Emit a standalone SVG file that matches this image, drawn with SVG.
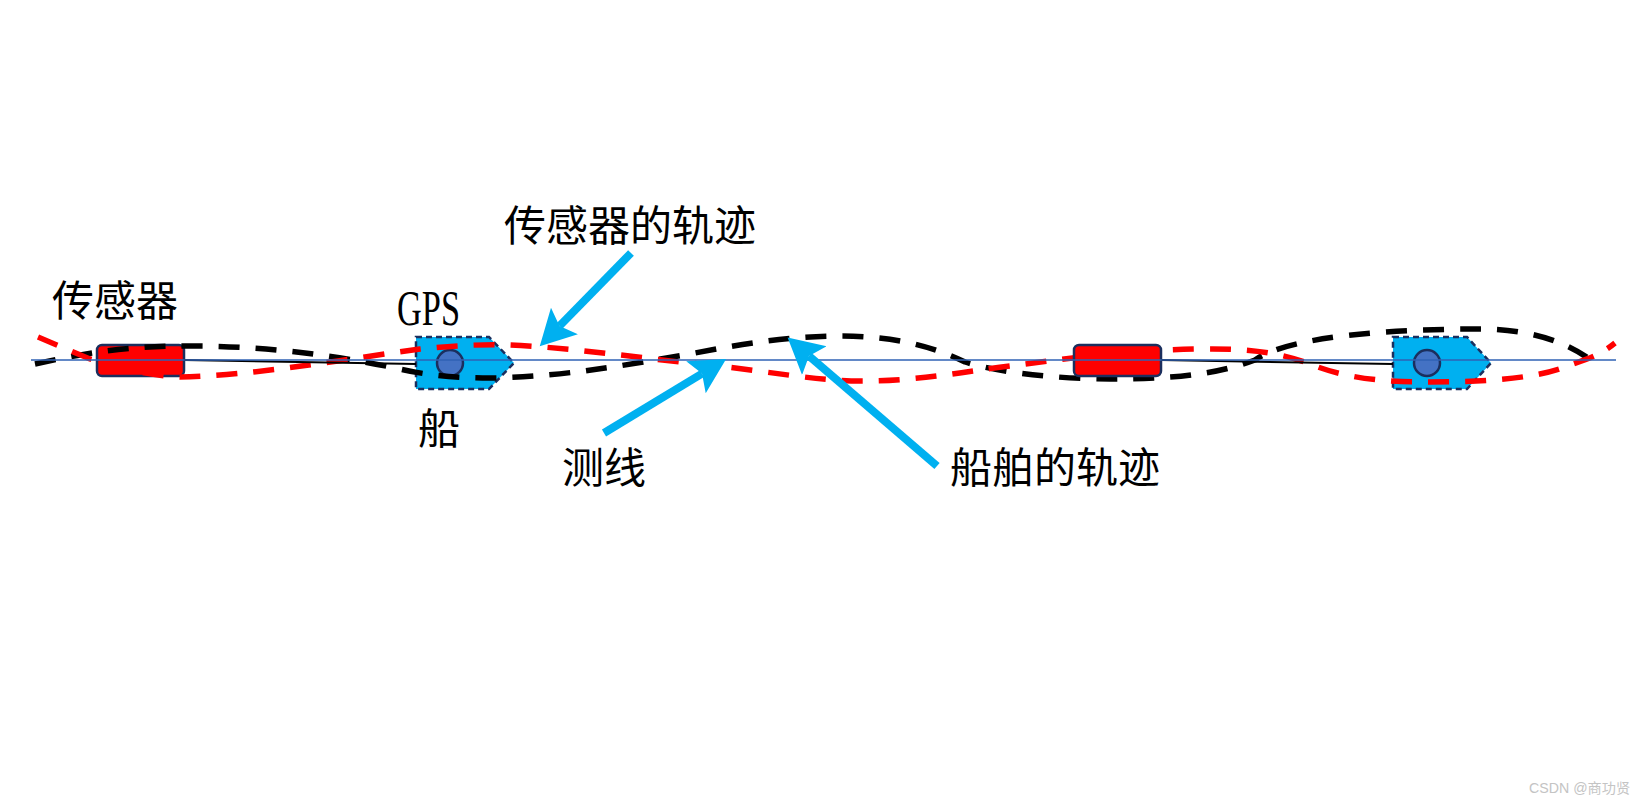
<svg xmlns="http://www.w3.org/2000/svg" width="1645" height="805" viewBox="0 0 1645 805">
<style>
.t{font-family:"Liberation Serif","Noto Sans CJK SC","Noto Sans CJK JP",serif;font-size:42px;fill:#000}
.sensor{fill:#f00;stroke:#1b2f5e;stroke-width:2.5}
.hull{fill:#00b0f0;stroke:#1b2f5e;stroke-width:2.5;stroke-dasharray:6 4}
.gps{fill:#4472c4;stroke:#1b2f5e;stroke-width:2.5}
.track{fill:none;stroke-width:5.5;stroke-dasharray:21 16}
.tow{stroke:#000;stroke-width:2;fill:none}
.arrow{stroke:#00b0f0;stroke-width:8;fill:none;marker-end:url(#head)}
</style>
<defs>
<marker id="head" markerUnits="userSpaceOnUse" markerWidth="40" markerHeight="40" refX="6" refY="17" orient="auto" viewBox="0 0 34 34">
<path d="M0 1L30 17L0 33L6 17Z" fill="#00b0f0"/>
</marker>
</defs>
<rect width="1645" height="805" fill="#fff"/>
<g id="sensor-1"><rect class="sensor" x="97" y="345" width="87" height="31" rx="5"/></g>
<g id="ship-1"><path class="hull" d="M416 337H489L514 363L489 389H416Z"/><circle class="gps" cx="450" cy="363" r="13"/></g>
<g id="ship-2"><path class="hull" d="M1393 337H1467L1491 363L1467 389H1393Z"/><circle class="gps" cx="1427" cy="363" r="13"/></g>
<g id="connectors">
<path id="ship-track" class="track" stroke="#000" d="M35 364C90 352 130 346 190 346C260 346 330 354 400 369C430 376 460 378 490 378C560 377 620 366 690 354C740 344 790 336 840 336C890 336 930 345 965 362C1000 373 1060 379 1110 379C1170 379 1215 375 1255 360C1290 335 1400 329 1480 329C1530 329 1570 342 1597 365"/>
<path id="sensor-track" class="track" stroke="#f00" d="M38 337L90 359C120 368 150 376 180 377C250 376 340 360 420 349C450 346 480 344 510 345C580 348 650 360 720 366C770 372 820 381 860 381C920 381 960 372 1010 366C1070 358 1130 350 1200 349C1250 348 1280 353 1310 364C1350 380 1390 382 1430 382C1490 382 1540 378 1570 365C1590 358 1600 355 1615 343"/>
</g>
<g id="sensor-2"><rect class="sensor" x="1074" y="345" width="87" height="31" rx="5"/></g>
<g id="tow-lines"><path class="tow" d="M184 360L416 364M1161 360L1393 364"/></g>
<g id="survey-line"><path d="M31 360H1616" stroke="#2f62b5" stroke-width="1.3" fill="none"/></g>
<g id="arrows">
<path class="arrow" d="M631 253L559.5 326"/>
<path class="arrow" d="M604 433L702 373.6"/>
<path class="arrow" d="M937 466L809 356"/>
</g>
<g id="labels">
<text class="t" x="52" y="316">传感器</text>
<text class="t" x="397" y="325" style="font-size:50px" textLength="63" lengthAdjust="spacingAndGlyphs">GPS</text>
<text class="t" x="418" y="444">船</text>
<text class="t" x="504" y="241">传感器的轨迹</text>
<text class="t" x="562" y="483">测线</text>
<text class="t" x="950" y="483">船舶的轨迹</text>
<text x="1529" y="793" font-family="Liberation Sans,Noto Sans CJK SC,sans-serif" font-size="14.2" fill="#c4c4c4">CSDN @商功贤</text>
</g>
</svg>
